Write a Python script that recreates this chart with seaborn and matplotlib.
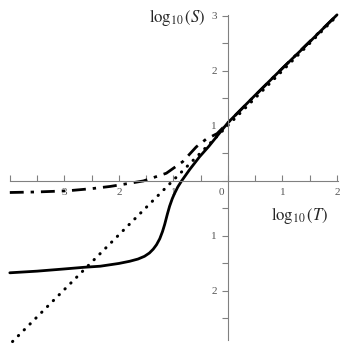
import numpy as np
import matplotlib
matplotlib.use("Agg")
import matplotlib.pyplot as plt
import matplotlib.transforms as mtransforms
import seaborn as sns

sns.set_theme(style="white")
plt.rcParams['font.family'] = ['Liberation Serif', 'DejaVu Serif']
plt.rcParams['mathtext.fontset'] = 'stix'

# curves (log10 T, log10 S)
solid_x = [-4.0, -3.5, -3.0, -2.64, -2.34, -2.0, -1.8, -1.65, -1.53, -1.44,
           -1.37, -1.31, -1.25, -1.2, -1.16, -1.11, -1.07, -1.02, -0.98, -0.92,
           -0.85, -0.7, -0.52, -0.35, -0.22, 0.0, 0.5, 1.0, 1.5, 2.0]
solid_y = [-1.67, -1.64, -1.60, -1.57, -1.55, -1.50, -1.46, -1.42, -1.37, -1.31,
           -1.24, -1.16, -1.05, -0.92, -0.79, -0.60, -0.46, -0.32, -0.23, -0.11,
           0.0, 0.21, 0.44, 0.63, 0.79, 1.06, 1.56, 2.05, 2.53, 3.02]

dashdot_x = [-4.0, -3.5, -2.95, -2.5, -2.16, -1.85, -1.55, -1.13, -0.83, -0.58,
             -0.4, -0.2, 0.0, 1.0, 2.0]
dashdot_y = [-0.21, -0.20, -0.18, -0.14, -0.10, -0.05, 0.0, 0.14, 0.35, 0.62,
             0.76, 0.86, 1.06, 2.05, 3.02]

dotted_x = [-3.95, 2.0]
dotted_y = [-2.92, 3.0]

xtick_pos = [-3, -2, -1, 0, 1, 2]
xtick_labels = ['3', '2', '1', '0', '1', '2']
ytick_pos = [3, 2, 1, -1, -2]
ytick_labels = ['3', '2', '1', '1', '2']

fig = plt.figure(figsize=(3.55, 3.52), dpi=100)
ax = fig.add_axes([0, 0, 1, 1])

sns.lineplot(x=solid_x, y=solid_y, ax=ax, color='black', lw=2.0, sort=False)
sns.lineplot(x=dashdot_x, y=dashdot_y, ax=ax, color='black', lw=2.0, sort=False)
ax.lines[-1].set_dashes([5, 2.5, 1.2, 2.5])
sns.lineplot(x=dotted_x, y=dotted_y, ax=ax, color='black', lw=2.2, sort=False)
ax.lines[-1].set_dashes([0.1, 2.6])
ax.lines[-1].set_dash_capstyle('round')

ax.set_xlim(-4.18, 2.33)
ax.set_ylim(-3.11, 3.29)

for s in ['top', 'right']:
    ax.spines[s].set_visible(False)
ax.spines['left'].set_position('zero')
ax.spines['bottom'].set_position('zero')
ax.spines['bottom'].set_bounds(-4, 2.02)
ax.spines['left'].set_bounds(-2.9, 3.02)
for s in ['left', 'bottom']:
    ax.spines[s].set_color('#808080')
    ax.spines[s].set_linewidth(0.8)

ax.set_xticks(np.arange(-4, 2.01, 0.5), minor=True)
ax.set_yticks(np.arange(-2.5, 3.01, 0.5), minor=True)
ax.set_xticks(xtick_pos)
ax.set_xticklabels(xtick_labels)
ax.set_yticks(ytick_pos)
ax.set_yticklabels(ytick_labels)
ax.tick_params(axis='x', which='both', direction='in', color='#808080',
               length=4, width=0.8, labelsize=8, labelcolor='#555555', pad=5)
ax.tick_params(axis='y', which='both', direction='out', color='#808080',
               length=4, width=0.8, labelsize=8, labelcolor='#555555', pad=4)
ax.tick_params(which='both', bottom=True, left=True)

ax.text(1.31, -0.62, r'$\log_{10}(T)$', fontsize=12, ha='center', va='center')
ax.text(-0.93, 2.98, r'$\log_{10}(S)$', fontsize=12, ha='center', va='center')

# the 0 label sits just left of the vertical axis
fig.canvas.draw()
zero_lbl = ax.xaxis.get_major_ticks()[3].label1
zero_lbl.set_transform(zero_lbl.get_transform() +
                       mtransforms.ScaledTranslation(-5 / 72, 0, fig.dpi_scale_trans))

fig.savefig('out.png', dpi=100)
